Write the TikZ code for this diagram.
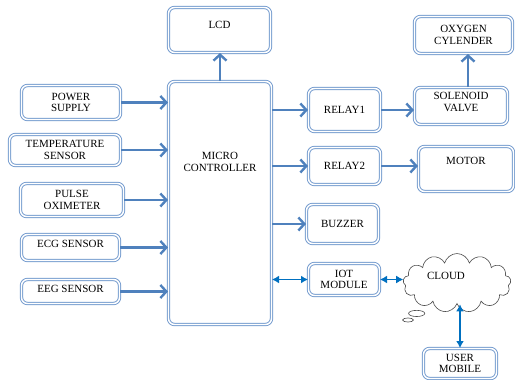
\documentclass[tikz,border=0pt]{standalone}
\usepackage{fontspec}
\setmainfont{Liberation Serif}
\usetikzlibrary{arrows.meta,positioning,shapes.callouts}
\definecolor{boxblue}{RGB}{120,158,208}
\definecolor{arrowblue}{RGB}{79,129,189}
\definecolor{linkblue}{RGB}{0,112,192}

\begin{document}
\begin{tikzpicture}[x=1pt,y=-1pt,>={Straight Barb[length=6pt,width=13pt]},
  blk/.style={draw=boxblue,double=white,double distance=1.4pt,line width=1pt,
    rounded corners=6pt,align=center,inner sep=2pt,
    font=\fontsize{11}{11.5}\selectfont},
  flow/.style={->,draw=arrowblue,line width=2.4pt},
  link/.style={{Latex[length=7pt,width=8pt]}-{Latex[length=7pt,width=8pt]},
    draw=linkblue,line width=1.8pt}]
\useasboundingbox (0,0) rectangle (515,380);
% controller and display
\node[blk,minimum width=103pt,minimum height=243pt,text depth=82pt] at (220,203) (mc) {MICRO\\CONTROLLER};
\node[blk,minimum width=102pt,minimum height=45pt,text depth=10pt] at (219.5,30) (lcd) {LCD};
% inputs
\node[blk,minimum width=99pt,minimum height=34pt] at (71,102.5) (power) {POWER\\SUPPLY};
\node[blk,minimum width=111pt,minimum height=31pt] at (65,150) (temp) {TEMPERATURE\\SENSOR};
\node[blk,minimum width=103pt,minimum height=33pt] at (72,200) (pulse) {PULSE\\OXIMETER};
\node[blk,minimum width=98pt,minimum height=26pt,text depth=8pt] at (70.5,247.5) (ecg) {ECG SENSOR};
\node[blk,minimum width=98pt,minimum height=24pt,text depth=6pt] at (70.5,291.5) (eeg) {EEG SENSOR};
% outputs
\node[blk,minimum width=72pt,minimum height=43pt] at (344.5,110) (relay1) {RELAY1};
\node[blk,minimum width=93pt,minimum height=37pt,text depth=8pt] at (461,106) (valve) {SOLENOID\\VALVE};
\node[blk,minimum width=98pt,minimum height=37pt] at (463.5,35) (oxygen) {OXYGEN\\CYLENDER};
\node[blk,minimum width=72pt,minimum height=37pt] at (344.5,166) (relay2) {RELAY2};
\node[blk,minimum width=95pt,minimum height=45pt,text depth=16pt] at (466,169) (motor) {MOTOR};
\node[blk,minimum width=72pt,minimum height=39pt] at (342.5,224) (buzzer) {BUZZER};
\node[blk,minimum width=71pt,minimum height=32pt] at (344,279.5) (iot) {IOT\\MODULE};
\node[cloud callout,draw=black!70,fill=white,line width=0.6pt,cloud puffs=13,aspect=2.2,
      minimum width=108pt,minimum height=47pt,callout absolute pointer={(408,320)},
      text width=60pt,align=left,text depth=14pt,
      font=\fontsize{11}{11.5}\selectfont] at (457,283) (cloud) {CLOUD};
\node[blk,minimum width=73pt,minimum height=30pt] at (460,363.5) (user) {USER\\MOBILE};
% connections
\foreach \n in {power,temp,pulse,ecg,eeg}
  \draw[flow] (\n) -- (\n -| mc.west);
\draw[flow] (mc.north) -- (mc.north |- lcd.south);
\draw[flow] (mc.east |- relay1) -- (relay1);
\draw[flow] (relay1) -- (relay1 -| valve.west);
\draw[flow] ([xshift=7pt]valve.north) -- ([xshift=7pt]valve.north |- oxygen.south);
\draw[flow] (mc.east |- relay2) -- (relay2);
\draw[flow] (relay2) -- (relay2 -| motor.west);
\draw[flow] (mc.east |- buzzer) -- (buzzer);
\draw[link] (mc.east |- iot) -- (iot);
\draw[link] (iot) -- (iot -| cloud.west);
\draw[link] (user.north) -- (user.north |- cloud.south);
\end{tikzpicture}
\end{document}
